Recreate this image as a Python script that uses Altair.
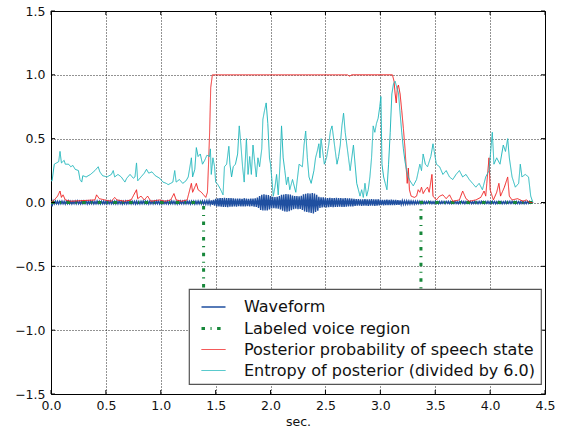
import altair as alt
import pandas as pd

SERIES = ["Waveform", "Labeled voice region",
          "Posterior probability of speech state",
          "Entropy of posterior (divided by 6.0)"]
COLORS = ["#1f4fa0", "#17873a", "#f02222", "#22b8bd"]
DASHES = [[1, 0], [3.5, 5.5, 1.1, 5.5], [1, 0], [1, 0]]
WIDTHS = [1.4, 3, 1, 1]

X_TICKS = [0.0, 0.5, 1.0, 1.5, 2.0, 2.5, 3.0, 3.5, 4.0, 4.5]
Y_TICKS = [-1.5, -1.0, -0.5, 0.0, 0.5, 1.0, 1.5]

# waveform samples (sec. grid start / step)
WAVE_T0 = 0.0
WAVE_DT = 0.01
WAVE_V = [
    0.0, -0.03, 0.012, -0.01, 0.011, -0.009, 0.01, -0.011, 0.009, -0.01,
    0.011, -0.01, 0.009, -0.012, 0.01, -0.009, 0.012, -0.01, 0.009, -0.011,
    0.01, -0.009, 0.011, -0.01, 0.012, -0.01, 0.009, -0.011, 0.01, -0.01,
    0.011, -0.009, 0.01, -0.012, 0.01, -0.01, 0.011, -0.009, 0.01, -0.011,
    0.009, -0.01, 0.012, -0.01, 0.01, -0.011, 0.009, -0.01, 0.011, -0.01,
    0.01, -0.011, 0.009, -0.01, 0.012, -0.01, 0.01, -0.009, 0.011, -0.01,
    0.012, -0.01, 0.011, -0.009, 0.01, -0.012, 0.009, -0.01, 0.011, -0.011,
    0.01, -0.009, 0.012, -0.011, 0.01, -0.01, 0.009, -0.012, 0.011, -0.01,
    0.009, -0.011, 0.01, -0.01, 0.012, -0.009, 0.011, -0.01, 0.01, -0.012,
    0.011, -0.01, 0.009, -0.011, 0.01, -0.01, 0.012, -0.009, 0.01, -0.011,
    0.01, -0.012, 0.011, -0.01, 0.009, -0.01, 0.011, -0.011, 0.01, -0.009,
    0.012, -0.01, 0.01, -0.011, 0.009, -0.012, 0.01, -0.01, 0.011, -0.01,
    0.01, -0.011, 0.012, -0.01, 0.011, -0.009, 0.01, -0.012, 0.011, -0.01,
    0.011, -0.012, 0.01, -0.011, 0.012, -0.01, 0.011, -0.012, 0.013, -0.012,
    0.012, -0.013, 0.014, -0.013, 0.015, -0.016, 0.017, -0.018, 0.02, -0.024,
    0.028, -0.03, 0.032, -0.031, 0.034, -0.033, 0.035, -0.034, 0.036, -0.035,
    0.034, -0.036, 0.035, -0.033, 0.034, -0.032, 0.033, -0.031, 0.03, -0.032,
    0.03, -0.029, 0.031, -0.03, 0.028, -0.03, 0.032, -0.031, 0.03, -0.029,
    0.028, -0.03, 0.031, -0.029, 0.03, -0.032, 0.033, -0.035, 0.038, -0.042,
    0.05, -0.058, 0.06, -0.062, 0.065, -0.063, 0.06, -0.062, 0.058, -0.055,
    0.05, -0.047, 0.045, -0.044, 0.042, -0.046, 0.045, -0.048, 0.05, -0.055,
    0.06, -0.065, 0.062, -0.07, 0.066, -0.072, 0.065, -0.068, 0.062, -0.06,
    0.055, -0.052, 0.05, -0.048, 0.05, -0.052, 0.048, -0.05, 0.052, -0.058,
    0.065, -0.07, 0.068, -0.075, 0.072, -0.078, 0.07, -0.082, 0.075, -0.085,
    0.07, -0.075, 0.06, -0.065, 0.045, -0.042, 0.04, -0.038, 0.04, -0.037,
    0.036, -0.038, 0.035, -0.036, 0.037, -0.035, 0.034, -0.036, 0.035, -0.034,
    0.036, -0.035, 0.034, -0.033, 0.035, -0.034, 0.033, -0.035, 0.034, -0.032,
    0.033, -0.031, 0.032, -0.03, 0.031, -0.03, 0.028, -0.027, 0.026, -0.025,
    0.026, -0.024, 0.025, -0.026, 0.024, -0.025, 0.026, -0.024, 0.025, -0.026,
    0.024, -0.025, 0.026, -0.024, 0.025, -0.026, 0.024, -0.025, 0.024, -0.023,
    0.022, -0.021, 0.02, -0.022, 0.021, -0.02, 0.022, -0.021, 0.02, -0.021,
    0.022, -0.02, 0.021, -0.02, 0.02, -0.019, 0.019, -0.018, 0.017, -0.016,
    0.015, -0.014, 0.013, -0.014, 0.013, -0.012, 0.012, -0.013, 0.012, -0.011,
    0.011, -0.012, 0.011, -0.01, 0.011, -0.01, 0.01, -0.011, 0.01, -0.009,
    0.008, -0.009, 0.008, -0.007, 0.009, -0.008, 0.008, -0.009, 0.007, -0.008,
    0.009, -0.008, 0.007, -0.009, 0.008, -0.008, 0.009, -0.007, 0.008, -0.009,
    0.008, -0.007, 0.009, -0.008, 0.008, -0.009, 0.007, -0.008, 0.009, -0.008,
    0.007, -0.009, 0.008, -0.008, 0.009, -0.007, 0.008, -0.009, 0.008, -0.007,
    0.009, -0.008, 0.008, -0.009, 0.007, -0.008, 0.009, -0.008, 0.007, -0.009,
    0.008, -0.008, 0.009, -0.007, 0.008, -0.009, 0.008, -0.007, 0.009, -0.008,
    0.007, -0.008, 0.009, -0.008, 0.008, -0.009, 0.007, -0.008, 0.009, -0.008,
    0.008, -0.009, 0.007, -0.008, 0.009, -0.008, 0.008, -0.007, 0.009, -0.008,
    0.009, -0.007, 0.008, -0.009, 0.008, -0.008, 0.007, -0.009, 0.008, -0.008,
    0.008, -0.009, 0.007, -0.008, 0.008, -0.007, 0.008, -0.006, 0.005, -0.004,
]

LABEL_T = [0.0, 1.39, 1.39, 3.37, 3.37, 4.40]
LABEL_V = [0.0, 0.0, -1.0, -1.0, 0.0, 0.0]

POST_T = [0.00, 0.03, 0.06, 0.082, 0.095, 0.11, 0.13, 0.18, 0.40, 0.415,
          0.44, 0.49, 0.55, 0.58, 0.60, 0.67, 0.73, 0.779, 0.79, 0.82,
          0.85, 0.88, 0.91, 0.99, 1.04, 1.09, 1.12, 1.14, 1.19, 1.24,
          1.279, 1.29, 1.31, 1.324, 1.34, 1.37, 1.39, 1.41, 1.425, 1.435,
          1.445, 1.455, 1.47, 2.70, 2.72, 2.74, 3.11, 3.125, 3.135, 3.145,
          3.155, 3.165, 3.18, 3.195, 3.21, 3.225, 3.235, 3.245, 3.255, 3.265,
          3.28, 3.31, 3.33, 3.345, 3.36, 3.375, 3.39, 3.41, 3.43, 3.445,
          3.47, 3.48, 3.51, 3.54, 3.57, 3.60, 3.63, 3.66, 3.72, 3.75,
          3.78, 3.81, 3.87, 3.915, 3.945, 3.96, 3.97, 3.99, 4.00, 4.03,
          4.06, 4.08, 4.095, 4.13, 4.16, 4.175, 4.20, 4.25, 4.30, 4.33,
          4.36, 4.39]
POST_V = [0.00, 0.02, 0.05, 0.09, 0.04, 0.06, 0.02, 0.01, 0.02, 0.06,
          0.03, 0.02, 0.01, 0.04, 0.02, 0.01, 0.02, 0.10, 0.03, 0.05,
          0.02, 0.05, 0.01, 0.02, 0.01, 0.02, 0.07, 0.02, 0.01, 0.02,
          0.15, 0.08, 0.12, 0.15, 0.10, 0.08, 0.06, 0.04, 0.08, 0.30,
          0.55, 0.90, 1.00, 1.00, 0.99, 1.00, 1.00, 0.95, 0.85, 0.78,
          0.90, 0.92, 0.85, 0.72, 0.58, 0.42, 0.28, 0.15, 0.27, 0.10,
          0.05, 0.04, 0.05, 0.10, 0.08, 0.12, 0.07, 0.10, 0.12, 0.08,
          0.22, 0.05, 0.02, 0.05, 0.06, 0.03, 0.06, 0.01, 0.02, 0.09,
          0.03, 0.01, 0.02, 0.04, 0.09, 0.05, 0.15, 0.35, 0.10, 0.02,
          0.08, 0.15, 0.05, 0.12, 0.20, 0.05, 0.02, 0.03, 0.01, 0.02,
          0.00, 0.00]

ENT_T = [0.000, 0.010, 0.030, 0.050, 0.070, 0.082, 0.095, 0.12, 0.13, 0.16,
         0.18, 0.20, 0.22, 0.25, 0.264, 0.28, 0.29, 0.32, 0.36, 0.40,
         0.43, 0.445, 0.47, 0.51, 0.55, 0.567, 0.58, 0.61, 0.64, 0.673,
         0.69, 0.72, 0.75, 0.765, 0.779, 0.79, 0.82, 0.85, 0.87, 0.89,
         0.92, 0.95, 0.99, 1.02, 1.05, 1.067, 1.09, 1.11, 1.127, 1.14,
         1.17, 1.20, 1.23, 1.25, 1.279, 1.29, 1.31, 1.324, 1.34, 1.36,
         1.38, 1.40, 1.42, 1.445, 1.452, 1.46, 1.475, 1.49, 1.50, 1.52,
         1.54, 1.567, 1.58, 1.60, 1.62, 1.63, 1.645, 1.66, 1.68, 1.70,
         1.715, 1.73, 1.745, 1.76, 1.78, 1.795, 1.81, 1.825, 1.84, 1.855,
         1.87, 1.885, 1.90, 1.92, 1.93, 1.945, 1.96, 1.975, 1.99, 2.00,
         2.01, 2.025, 2.04, 2.055, 2.07, 2.085, 2.10, 2.115, 2.13, 2.145,
         2.16, 2.175, 2.20, 2.23, 2.26, 2.29, 2.305, 2.32, 2.335, 2.35,
         2.37, 2.395, 2.41, 2.425, 2.44, 2.45, 2.46, 2.475, 2.49, 2.51,
         2.53, 2.545, 2.56, 2.575, 2.59, 2.605, 2.62, 2.635, 2.65, 2.665,
         2.68, 2.695, 2.71, 2.725, 2.74, 2.755, 2.77, 2.785, 2.80, 2.815,
         2.83, 2.845, 2.86, 2.875, 2.89, 2.905, 2.92, 2.935, 2.95, 2.965,
         2.98, 2.995, 3.005, 3.015, 3.03, 3.045, 3.06, 3.075, 3.09, 3.105,
         3.12, 3.135, 3.15, 3.165, 3.18, 3.195, 3.21, 3.225, 3.24, 3.255,
         3.27, 3.30, 3.33, 3.36, 3.375, 3.39, 3.41, 3.43, 3.46, 3.48,
         3.51, 3.54, 3.57, 3.60, 3.63, 3.66, 3.69, 3.72, 3.75, 3.78,
         3.81, 3.84, 3.87, 3.90, 3.93, 3.96, 3.99, 4.02, 4.035, 4.06,
         4.09, 4.12, 4.14, 4.16, 4.175, 4.20, 4.23, 4.26, 4.275, 4.29,
         4.32, 4.35, 4.37, 4.39]
ENT_V = [0.17, 0.17, 0.30, 0.31, 0.32, 0.40, 0.31, 0.33, 0.30, 0.30,
         0.28, 0.29, 0.26, 0.25, 0.18, 0.16, 0.21, 0.20, 0.22, 0.25,
         0.28, 0.24, 0.21, 0.20, 0.22, 0.25, 0.20, 0.22, 0.20, 0.16,
         0.19, 0.22, 0.19, 0.20, 0.31, 0.17, 0.20, 0.23, 0.26, 0.23,
         0.24, 0.21, 0.19, 0.16, 0.15, 0.14, 0.15, 0.16, 0.25, 0.16,
         0.18, 0.15, 0.17, 0.20, 0.35, 0.20, 0.26, 0.43, 0.36, 0.38,
         0.30, 0.33, 0.37, 0.36, 0.42, 0.22, 0.35, 0.28, 0.16, 0.14,
         0.11, 0.06, 0.28, 0.30, 0.44, 0.30, 0.20, 0.28, 0.30, 0.38,
         0.60, 0.45, 0.28, 0.16, 0.50, 0.22, 0.36, 0.22, 0.45, 0.32,
         0.20, 0.35, 0.28, 0.42, 0.65, 0.72, 0.78, 0.62, 0.35, 0.30,
         0.20, 0.05, 0.12, 0.22, 0.06, 0.28, 0.60, 0.35, 0.25, 0.14,
         0.20, 0.10, 0.18, 0.08, 0.30, 0.28, 0.45, 0.56, 0.35, 0.20,
         0.15, 0.25, 0.35, 0.40, 0.46, 0.35, 0.50, 0.40, 0.30, 0.35,
         0.45, 0.56, 0.60, 0.50, 0.40, 0.30, 0.36, 0.45, 0.60, 0.70,
         0.55, 0.45, 0.35, 0.25, 0.35, 0.45, 0.30, 0.15, 0.10, 0.05,
         0.10, 0.04, 0.15, 0.05, 0.10, 0.20, 0.35, 0.60, 0.55, 0.62,
         0.66, 0.75, 0.83, 0.30, 0.20, 0.15, 0.10, 0.30, 0.55, 0.85,
         0.93, 0.95, 0.90, 0.86, 0.70, 0.55, 0.42, 0.32, 0.25, 0.20,
         0.17, 0.13, 0.18, 0.30, 0.25, 0.38, 0.30, 0.28, 0.36, 0.46,
         0.30, 0.28, 0.22, 0.25, 0.20, 0.18, 0.22, 0.25, 0.20, 0.22,
         0.18, 0.15, 0.12, 0.15, 0.10, 0.20, 0.25, 0.55, 0.30, 0.35,
         0.30, 0.45, 0.40, 0.50, 0.35, 0.20, 0.12, 0.15, 0.30, 0.20,
         0.22, 0.20, 0.05, 0.00]

PLOT_W = 494
PLOT_H = 383
FONT = "DejaVu Sans"


def frame(ts, vs, name):
    return pd.DataFrame({"t": ts, "v": vs, "i": list(range(len(ts))),
                         "series": [name] * len(ts)})


wave_df = frame([WAVE_T0 + k * WAVE_DT for k in range(len(WAVE_V))], WAVE_V, SERIES[0])
label_df = frame(LABEL_T, LABEL_V, SERIES[1])
post_df = frame(POST_T, POST_V, SERIES[2])
ent_df = frame(ENT_T, ENT_V, SERIES[3])

xscale = alt.Scale(domain=[0, 4.5], nice=False, zero=False)
yscale = alt.Scale(domain=[-1.5, 1.5], nice=False, zero=False)

xaxis = alt.Axis(values=X_TICKS, format=".1f", title="sec.", ticks=False, domain=False,
                 grid=True, gridDash=[1, 2], gridColor="#000", gridOpacity=0.85,
                 labelFlush=False, labelOverlap=False, labelPadding=5,
                 labelFontSize=12.5, labelColor="#111", labelFont=FONT,
                 titleFont=FONT, titleFontSize=12.5, titleFontWeight="normal",
                 titleColor="#111", titlePadding=4)
yaxis = alt.Axis(values=Y_TICKS, format=".1f", title=None, ticks=False, domain=False,
                 grid=True, gridDash=[1, 2], gridColor="#000", gridOpacity=0.85,
                 labelFlush=False, labelOverlap=False, labelPadding=6,
                 labelFontSize=12.5, labelColor="#111", labelFont=FONT)

legend = alt.Legend(title=None, orient="none", legendX=138, legendY=278,
                    symbolType="stroke", symbolSize=576, symbolOffset=6,
                    labelFontSize=16, labelFont=FONT, labelColor="#111", labelOffset=17,
                    rowPadding=0, padding=5, fillColor="white",
                    strokeColor="#555", labelLimit=400)


def line_layer(df):
    return alt.Chart(df).mark_line(clip=True, strokeCap="butt").encode(
        x=alt.X("t:Q", scale=xscale, axis=xaxis),
        y=alt.Y("v:Q", scale=yscale, axis=yaxis),
        order=alt.Order("i:Q"),
        color=alt.Color("series:N", scale=alt.Scale(domain=SERIES, range=COLORS), legend=legend),
        strokeDash=alt.StrokeDash("series:N", scale=alt.Scale(domain=SERIES, range=DASHES), legend=legend),
        strokeWidth=alt.StrokeWidth("series:N", scale=alt.Scale(type="ordinal", domain=SERIES, range=WIDTHS), legend=legend),
    )


ytick_df = pd.DataFrame({"v": Y_TICKS})
xtick_df = pd.DataFrame({"t": X_TICKS})

tick_left = alt.Chart(ytick_df).mark_rule(color="#000", strokeWidth=1).encode(
    y=alt.Y("v:Q", scale=yscale, axis=yaxis), x=alt.value(0), x2=alt.value(4))
tick_right = alt.Chart(ytick_df).mark_rule(color="#000", strokeWidth=1).encode(
    y=alt.Y("v:Q", scale=yscale, axis=yaxis), x=alt.value(PLOT_W - 4), x2=alt.value(PLOT_W))
tick_bottom = alt.Chart(xtick_df).mark_rule(color="#000", strokeWidth=1).encode(
    x=alt.X("t:Q", scale=xscale, axis=xaxis), y=alt.value(PLOT_H - 4), y2=alt.value(PLOT_H))
tick_top = alt.Chart(xtick_df).mark_rule(color="#000", strokeWidth=1).encode(
    x=alt.X("t:Q", scale=xscale, axis=xaxis), y=alt.value(0), y2=alt.value(4))

chart = alt.layer(
    line_layer(wave_df), line_layer(label_df), line_layer(post_df), line_layer(ent_df),
    tick_left, tick_right, tick_bottom, tick_top,
).properties(
    width=PLOT_W, height=PLOT_H,
    autosize=alt.AutoSizeParams(type="none"),
    padding={"left": 51, "top": 11, "right": 20, "bottom": 36},
    background="white",
).configure_view(
    stroke="#000", strokeWidth=1
).configure_legend(
    strokeWidth=1.2
)

chart.save("out.html", embed_options={"renderer": "svg", "actions": False})
